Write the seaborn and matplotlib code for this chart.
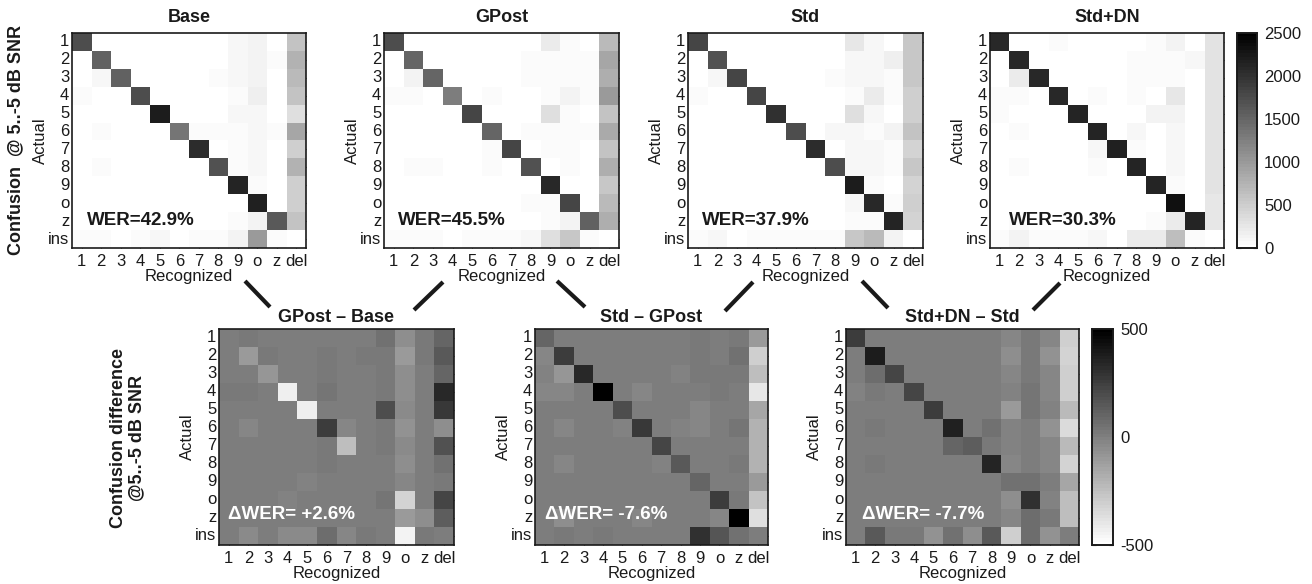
import numpy as np
import matplotlib
matplotlib.use("Agg")
import matplotlib.pyplot as plt
from matplotlib.colors import ListedColormap
from matplotlib.lines import Line2D
import seaborn as sns

# ---------------- data ----------------
actual_labels = ['1', '2', '3', '4', '5', '6', '7', '8', '9', 'o', 'z', 'ins']
recog_labels = ['1', '2', '3', '4', '5', '6', '7', '8', '9', 'o', 'z', 'del']

top_titles = ['Base', 'GPost', 'Std', 'Std+DN']
top_wer = ['WER=42.9%', 'WER=45.5%', 'WER=37.9%', 'WER=30.3%']
diff_titles = ['GPost \u2013 Base', 'Std \u2013 GPost', 'Std+DN \u2013 Std']
diff_wer = ['\u0394WER= +2.6%', '\u0394WER= -7.6%', '\u0394WER= -7.7%']

base = [
    [1750, 0, 0, 30, 30, 0, 0, 0, 80, 120, 0, 620],
    [0, 1550, 0, 0, 0, 0, 30, 0, 80, 150, 60, 750],
    [0, 100, 1550, 0, 0, 0, 0, 40, 80, 120, 0, 700],
    [40, 0, 0, 1750, 0, 0, 0, 0, 40, 180, 0, 620],
    [0, 0, 0, 0, 2200, 0, 0, 0, 100, 100, 0, 320],
    [0, 50, 0, 0, 0, 1330, 40, 60, 40, 100, 40, 870],
    [0, 0, 0, 0, 0, 0, 2050, 0, 40, 80, 0, 500],
    [0, 60, 0, 0, 0, 0, 0, 1680, 40, 100, 0, 750],
    [0, 0, 0, 0, 30, 0, 0, 0, 2120, 60, 0, 500],
    [0, 0, 0, 0, 0, 0, 0, 0, 0, 2170, 0, 500],
    [0, 30, 0, 0, 0, 0, 0, 0, 60, 150, 1620, 620],
    [40, 60, 0, 40, 100, 0, 40, 60, 120, 1000, 60, 0],
]
gpost = [
    [1750, 0, 0, 0, 0, 0, 0, 0, 200, 60, 0, 700],
    [0, 1500, 30, 0, 0, 30, 0, 50, 60, 60, 60, 870],
    [0, 120, 1500, 0, 0, 0, 0, 50, 60, 60, 40, 800],
    [60, 40, 0, 1250, 0, 40, 0, 0, 60, 150, 40, 1000],
    [0, 0, 0, 0, 1830, 0, 0, 0, 320, 60, 0, 620],
    [0, 30, 0, 0, 0, 1500, 0, 60, 60, 60, 40, 850],
    [0, 0, 0, 0, 0, 40, 1830, 0, 60, 60, 0, 620],
    [0, 40, 40, 0, 0, 40, 0, 1680, 30, 60, 0, 800],
    [0, 0, 0, 0, 0, 0, 0, 0, 2080, 30, 0, 550],
    [0, 0, 0, 0, 0, 0, 0, 40, 60, 1830, 0, 700],
    [0, 30, 0, 0, 0, 30, 0, 0, 60, 120, 1550, 800],
    [50, 50, 50, 0, 60, 70, 60, 80, 320, 550, 60, 0],
]
std = [
    [1800, 0, 0, 0, 0, 0, 0, 0, 250, 80, 0, 570],
    [0, 1680, 30, 0, 0, 30, 0, 0, 80, 80, 180, 550],
    [0, 80, 1800, 0, 0, 0, 0, 40, 80, 80, 40, 550],
    [40, 0, 0, 1800, 0, 0, 0, 0, 40, 200, 40, 500],
    [0, 0, 0, 0, 2000, 0, 0, 0, 320, 80, 0, 500],
    [0, 0, 0, 0, 0, 1750, 0, 80, 80, 60, 150, 620],
    [0, 0, 0, 0, 0, 0, 2050, 0, 80, 100, 40, 450],
    [0, 30, 30, 0, 0, 0, 0, 1750, 80, 80, 60, 570],
    [0, 0, 0, 0, 0, 0, 0, 0, 2200, 60, 0, 450],
    [0, 0, 0, 0, 0, 0, 0, 0, 100, 2080, 40, 500],
    [0, 30, 0, 0, 0, 0, 0, 0, 40, 40, 2120, 450],
    [60, 80, 0, 50, 60, 60, 50, 70, 550, 700, 150, 0],
]
std_dn = [
    [2080, 0, 0, 40, 0, 0, 0, 0, 40, 120, 0, 300],
    [0, 2080, 30, 0, 0, 30, 0, 40, 40, 60, 80, 300],
    [0, 200, 2080, 0, 0, 0, 0, 40, 40, 60, 0, 280],
    [40, 40, 0, 2080, 0, 40, 0, 40, 0, 250, 0, 280],
    [40, 0, 0, 0, 2120, 0, 0, 0, 150, 150, 0, 280],
    [0, 60, 0, 0, 0, 2120, 0, 100, 0, 80, 0, 280],
    [0, 0, 0, 0, 0, 100, 2170, 40, 0, 80, 0, 280],
    [0, 60, 0, 0, 0, 40, 0, 2120, 0, 80, 0, 300],
    [0, 0, 0, 0, 0, 0, 0, 0, 2120, 60, 0, 280],
    [0, 0, 0, 0, 0, 0, 0, 30, 30, 2330, 0, 250],
    [0, 60, 0, 0, 0, 0, 0, 0, 40, 200, 2120, 250],
    [50, 150, 40, 40, 40, 80, 0, 200, 200, 650, 60, 0],
]

diff_gpost_base = [
    [0, 20, 10, 0, 0, 10, 0, 10, 60, -60, 20, 100],
    [10, -100, 20, 0, 10, 20, 0, 20, 20, -100, 20, 150],
    [10, 10, -80, 0, 0, 20, 0, 10, 20, -60, 10, 100],
    [30, 20, 0, -430, 0, 40, 0, 0, 20, -50, 10, 340],
    [0, 0, 0, 0, -430, 0, 0, 0, 200, -40, 0, 280],
    [0, -30, 0, 0, 0, 250, -20, 0, 20, -70, 0, -50],
    [0, 0, 0, 0, 0, 20, -250, 0, 20, -40, 0, 180],
    [0, 10, 0, 0, 0, 20, 0, 10, 0, -60, 0, 60],
    [0, 0, 0, 0, -10, 0, 0, 0, 0, -20, 0, 30],
    [0, 0, 0, -10, 0, 0, 0, 10, 40, -320, 0, 230],
    [0, 10, 10, 0, 0, 10, 0, 0, 0, -100, -50, 140],
    [10, -40, 10, -40, -40, 70, -20, 20, 0, -450, 20, 0],
]
diff_std_gpost = [
    [100, 0, 0, 0, 0, 0, 0, 0, 20, 0, 20, -100],
    [-20, 250, 0, 0, 0, 0, 0, 0, 20, 0, 60, -310],
    [-10, -80, 330, 0, 0, 0, 0, -10, 20, 20, 20, -250],
    [-30, -30, 10, 500, 0, -30, 0, 0, 10, 20, 10, -400],
    [0, 0, 0, 0, 200, 0, 0, 0, -20, 0, 0, -150],
    [0, -30, 0, 0, -10, 270, 0, -10, -20, 0, 40, -200],
    [0, 0, 0, 0, 0, 0, 220, 0, 0, 10, 0, -200],
    [0, -20, 0, 0, 0, 0, -10, 150, 10, 10, 20, -200],
    [0, 0, 0, 0, 0, 0, 0, 0, 100, 0, 0, -100],
    [0, 0, 0, 10, 0, 0, 0, 0, 0, 250, 30, -260],
    [0, -50, 0, 0, 0, -20, 0, 0, 0, -20, 500, -360],
    [10, 30, 0, 30, 0, 0, 10, 10, 300, 170, 50, 0],
]
diff_stddn_std = [
    [250, 0, 0, 0, 0, 0, 0, 0, -30, 30, -30, -300],
    [0, 380, 0, 0, 0, 0, 0, 10, -50, 20, -70, -320],
    [0, 70, 230, 0, 0, 0, 0, 10, -30, 30, -20, -300],
    [-10, 30, 0, 230, 0, 0, 0, 0, -10, 40, -20, -300],
    [0, 0, 0, 0, 250, 0, 0, 0, -100, 40, -10, -220],
    [0, 20, 0, 0, 0, 370, 0, 50, -10, 10, -70, -350],
    [0, 0, 0, 0, 0, 100, 130, 20, -10, 0, -20, -220],
    [0, 30, 0, 0, 0, 0, 0, 350, -20, 0, -20, -320],
    [10, 0, 0, 0, 0, 0, 0, 0, 50, 50, 0, -150],
    [0, 0, 0, 0, 0, 0, 0, 0, -50, 300, -10, -250],
    [0, 0, 0, 0, 0, 0, 0, 0, -20, 70, 20, -250],
    [10, 150, 20, 20, -70, 50, -50, 150, -300, 70, -70, 0],
]

top_data = [base, gpost, std, std_dn]
diff_data = [diff_gpost_base, diff_std_gpost, diff_stddn_std]
top_ticks = [0, 500, 1000, 1500, 2000, 2500]
diff_ticks = [-500, 0, 500]

# ---------------- style ----------------
sns.set_theme(style="white")
plt.rcParams['font.family'] = ['Liberation Sans', 'DejaVu Sans']
plt.rcParams['axes.edgecolor'] = 'black'
plt.rcParams['axes.linewidth'] = 1.2
plt.rcParams['text.color'] = 'black'
plt.rcParams['axes.labelcolor'] = 'black'
plt.rcParams['axes.titlecolor'] = 'black'
plt.rcParams['xtick.color'] = 'black'
plt.rcParams['ytick.color'] = 'black'

W, H = 1312, 584
fig = plt.figure(figsize=(W / 100, H / 100), dpi=100)

cmap = ListedColormap(plt.get_cmap('gray_r')(np.linspace(0, 1, 64)))


def px_axes(x0, y0, x1, y1):
    return fig.add_axes([x0 / W, 1 - y1 / H, (x1 - x0) / W, (y1 - y0) / H])


def style_ax(ax):
    ax.set_xticklabels(recog_labels, rotation=0, fontsize=12, color='k')
    ax.set_yticklabels(actual_labels, rotation=0, fontsize=12, color='k')
    ax.tick_params(axis='x', direction='in', length=3, width=0.8, color='k',
                   top=True, bottom=True, pad=4, labelcolor='k')
    ax.tick_params(axis='y', direction='in', length=3, width=0.8, color='k',
                   left=True, right=True, pad=2, labelcolor='k')
    for s in ax.spines.values():
        s.set_visible(True)
        s.set_color('k')
        s.set_linewidth(1.2)
    ax.set_xlabel('Recognized', fontsize=12, labelpad=0, color='k')
    ax.set_ylabel('Actual', fontsize=12, labelpad=0, color='k')


def style_cbar(cax, ticks):
    cax.set_yticks(ticks)
    cax.set_yticklabels([str(t) for t in ticks], fontsize=12, color='k')
    cax.tick_params(direction='in', length=3, width=0.8, color='k',
                    left=True, right=True, pad=5, labelcolor='k')
    for s in cax.spines.values():
        s.set_visible(True)
        s.set_color('k')
        s.set_linewidth(1.2)


top_pos = [(72, 33, 306, 248), (384, 33, 619, 248),
           (688, 33, 923, 248), (990, 33, 1224, 248)]
top_wer_x = [0.77, 0.72, 0.72, 0.97]
top_mesh = None
for i in range(4):
    ax = px_axes(*top_pos[i])
    sns.heatmap(np.array(top_data[i]), ax=ax, cmap=cmap, vmin=0, vmax=2500,
                cbar=False, xticklabels=recog_labels, yticklabels=actual_labels,
                square=False)
    style_ax(ax)
    ax.set_title(top_titles[i], fontsize=13, fontweight='bold', pad=8, color='k')
    ax.text(top_wer_x[i], 10.45, top_wer[i], fontsize=13.5, fontweight='bold',
            color='k', ha='left', va='center')
    top_mesh = ax.collections[0]

cax1 = px_axes(1237, 33, 1257, 248)
fig.colorbar(top_mesh, cax=cax1)
style_cbar(cax1, top_ticks)

diff_pos = [(219, 329, 454, 545), (535, 329, 768, 545), (846, 329, 1079, 545)]
diff_wer_x = [0.46, 0.5, 0.8]
diff_mesh = None
for i in range(3):
    ax = px_axes(*diff_pos[i])
    sns.heatmap(np.array(diff_data[i]), ax=ax, cmap=cmap, vmin=-500, vmax=500,
                cbar=False, xticklabels=recog_labels, yticklabels=actual_labels)
    style_ax(ax)
    ax.set_title(diff_titles[i], fontsize=13, fontweight='bold', pad=5, color='k')
    ax.text(diff_wer_x[i], 10.3, diff_wer[i], fontsize=13.5, fontweight='bold',
            color='white', ha='left', va='center')
    diff_mesh = ax.collections[0]

cax2 = px_axes(1092, 329, 1113, 545)
fig.colorbar(diff_mesh, cax=cax2)
style_cbar(cax2, diff_ticks)

# row labels
fig.text(16 / W, 1 - 140 / H, 'Confusion  @ 5..-5 dB SNR', rotation=90,
         fontsize=13, fontweight='bold', ha='center', va='center', color='k')
fig.text(128 / W, 1 - 438 / H, 'Confusion difference\n@5..-5 dB SNR', rotation=90,
         fontsize=13, fontweight='bold', ha='center', va='center',
         multialignment='center', linespacing=1.1, color='k')

# connector lines
connectors = [((245, 281), (270, 307)), ((443, 282), (414, 310)),
              ((557, 281), (585, 307)), ((753, 282), (725, 311)),
              ((862, 281), (888, 308)), ((1060, 283), (1033, 310))]
for (x0, y0), (x1, y1) in connectors:
    fig.add_artist(Line2D([x0 / W, x1 / W], [1 - y0 / H, 1 - y1 / H],
                          transform=fig.transFigure, color='k', lw=3,
                          solid_capstyle='butt'))

fig.savefig('out.png', dpi=100, facecolor='white')
